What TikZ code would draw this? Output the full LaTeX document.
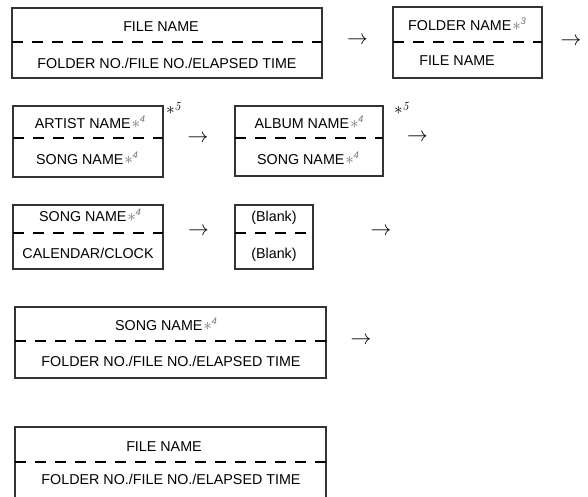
\documentclass[tikz,border=0pt]{standalone}
\usepackage{fontspec}
\newfontfamily\labfont{Liberation Sans}
\newcommand\lab{\labfont\fontsize{14.3}{15}\selectfont}
\newcommand\fnin[1]{\textcolor{black!55}{\kern1pt{\fontsize{16}{16}\selectfont$\ast$}\kern-0.5pt\raisebox{5.5pt}{\fontsize{9.5}{9.5}\selectfont\textit{#1}}}}
\newcommand\fnout[1]{{\fontsize{17}{17}\selectfont$\ast$\kern-0.5pt\raisebox{3.5pt}{\fontsize{12.5}{12.5}\selectfont\textit{#1}}}}
\begin{document}
\begin{tikzpicture}[x=1pt,y=-1pt]
\tikzset{
  boxline/.style={draw=black!80, line width=1.1pt},
  divline/.style={draw=black, line width=2pt, dash pattern=on 11pt off 9pt},
  lbl/.style={font=\lab, inner sep=0pt, anchor=base},
  arr/.style={font=\fontsize{20}{20}\selectfont, inner sep=0pt},
  note/.style={inner sep=0pt, anchor=base west}
}
\useasboundingbox (0,0) rectangle (588,496);
\clip (0,0) rectangle (588,496);

% Box 1
\draw[boxline] (12,8) rectangle (322,78);
\draw[divline] (12,42) -- (322,42);
\node[lbl] (t1) at (161,31) {FILE NAME};
\node[lbl] (u1) at (167,68) {FOLDER NO./FILE NO./ELAPSED TIME};
\node[arr] (a1) at (357.5,41) {$\rightarrow$};

% Box 2
\draw[boxline] (393,7) rectangle (542,78);
\draw[divline] (393,42) -- (542,42);
\node[lbl] (t2) at (467,30) {FOLDER NAME\fnin{3}};
\node[lbl] (u2) at (457,65) {FILE NAME};
\node[arr] (a2) at (571,42) {$\rightarrow$};

% Box 3
\draw[boxline] (13,106) rectangle (163,177);
\draw[divline] (13,138) -- (163,138);
\node[lbl] (t3) at (90,128) {ARTIST NAME\fnin{4}};
\node[lbl] (u3) at (87,164) {SONG NAME\fnin{4}};
\node[note] (n3) at (166,114) {\fnout{5}};
\node[arr] (a3) at (198,139) {$\rightarrow$};

% Box 4
\draw[boxline] (235,106) rectangle (383,176);
\draw[divline] (235,138) -- (383,138);
\node[lbl] (t4) at (309,128) {ALBUM NAME\fnin{4}};
\node[lbl] (u4) at (308,164) {SONG NAME\fnin{4}};
\node[note] (n4) at (394,114) {\fnout{5}};
\node[arr] (a4) at (417.5,138) {$\rightarrow$};

% Box 5
\draw[boxline] (13,205) rectangle (163,269);
\draw[divline] (13,233) -- (163,233);
\node[lbl] (t5) at (90,221) {SONG NAME\fnin{4}};
\node[lbl] (u5) at (88,258) {CALENDAR/CLOCK};
\node[arr] (a5) at (198.5,232) {$\rightarrow$};

% Box 6
\draw[boxline] (235,205) rectangle (313,269);
\draw[divline] (235,233) -- (313,233);
\node[lbl] (t6) at (274,221) {(Blank)};
\node[lbl] (u6) at (274,258) {(Blank)};
\node[arr] (a6) at (381,232) {$\rightarrow$};

% Box 7
\draw[boxline] (15,307) rectangle (326,378);
\draw[divline] (15,341) -- (326,341);
\node[lbl] (t7) at (166,330) {SONG NAME\fnin{4}};
\node[lbl] (u7) at (171,366) {FOLDER NO./FILE NO./ELAPSED TIME};
\node[arr] (a7) at (361,341) {$\rightarrow$};

% Box 8
\draw[boxline] (15,427) rectangle (326,500);
\draw[divline] (15,462) -- (326,462);
\node[lbl] (t8) at (164,451) {FILE NAME};
\node[lbl] (u8) at (171,484) {FOLDER NO./FILE NO./ELAPSED TIME};
\end{tikzpicture}
\end{document}
